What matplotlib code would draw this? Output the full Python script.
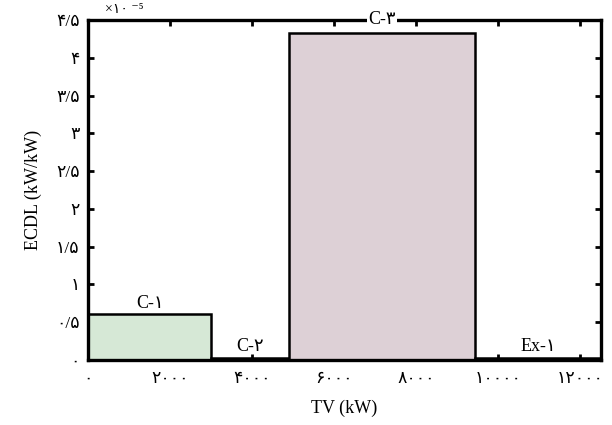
import matplotlib.pyplot as plt

# bar data (TV in kW, ECDL scaled by 1e-?)
names = ['C-۱', 'C-۲', 'C-۳', 'Ex-۱']
starts = [0, 3000, 4900, 9440]
widths = [3000, 1900, 4540, 3060]
heights = [0.61, 0.03, 4.33, 0.03]
colors = ['#d6e8d6', '#e2b9c2', '#ddd0d6', '#c3acd9']

xticks = [0, 2000, 4000, 6000, 8000, 10000, 12000]
xticklabels = ['۰', '۲۰۰۰', '۴۰۰۰', '۶۰۰۰', '۸۰۰۰', '۱۰۰۰۰', '۱۲۰۰۰']
yticks = [0, 0.5, 1, 1.5, 2, 2.5, 3, 3.5, 4, 4.5]
yticklabels = ['۰', '۰/۵', '۱', '۱/۵', '۲', '۲/۵', '۳', '۳/۵', '۴', '۴/۵']

fam = ['Liberation Serif', 'DejaVu Sans']
plt.rcParams['font.family'] = fam

fig = plt.figure(figsize=(6.12, 4.25), dpi=100)
ax = fig.add_axes([0.1438, 0.153, 0.8382, 0.8])

ax.bar(starts, heights, width=widths, align='edge', color=colors,
       edgecolor='black', linewidth=1.8, zorder=2)

# labels above bars
for i in range(len(names)):
    cx = starts[i] + widths[i] / 2
    if names[i] == 'C-۳':
        ax.text(cx, 4.5, names[i], ha='center', va='center', fontsize=13,
                bbox=dict(facecolor='white', edgecolor='none', pad=1), zorder=5,
                clip_on=False)
    else:
        ax.text(cx, heights[i] + 0.03, names[i], ha='center', va='bottom',
                fontsize=13, zorder=5)

ax.set_xlim(0, 12500)
ax.set_ylim(0, 4.5)
ax.set_xticks(xticks)
ax.set_xticklabels(xticklabels, fontsize=12.5)
ax.set_yticks(yticks)
ax.set_yticklabels(yticklabels, fontsize=12.5)
ax.tick_params(direction='in', length=4, width=2, top=True, right=True)
ax.tick_params(axis='x', pad=8)
ax.tick_params(axis='y', pad=6)
for s in ax.spines.values():
    s.set_linewidth(2.4)
    s.set_zorder(4)

ax.set_xlabel('TV (kW)', fontsize=13, labelpad=9)
ax.set_ylabel('ECDL (kW/kW)', fontsize=13, labelpad=10)

# exponent multiplier above the axes
fig.text(0.172, 0.994, '×۱۰ ⁻⁵', fontsize=10, ha='left', va='top')

fig.savefig('out.png', dpi=100)
